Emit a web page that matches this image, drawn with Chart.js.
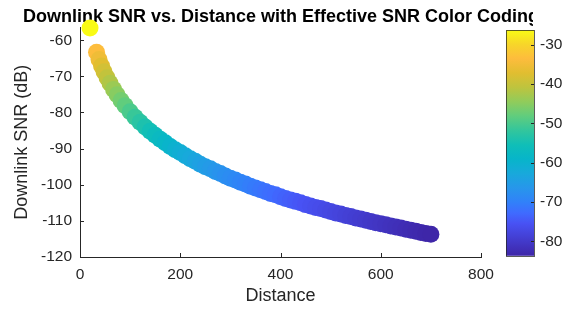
<!DOCTYPE html>
<html><head><meta charset="utf-8">
<script src="https://cdn.jsdelivr.net/npm/chart.js@4.4.1/dist/chart.umd.min.js"></script>
<style>html,body{margin:0;padding:0;background:#fff}#wrap{width:574px;height:309px}</style>
</head><body><div id="wrap"><canvas id="c" width="574" height="309"></canvas></div>
<script>
const distance = [20,33,38,43,48,54,60,67,74,82,90,100,110,120,130,140,150,160,170,180,190,200,210,220,230,240,250,260,270,280,290,300,310,320,330,340,350,360,370,380,390,400,410,420,430,440,450,460,470,480,490,500,510,520,530,540,550,560,570,580,590,600,610,620,630,640,650,660,670,680,690,700];
const downlinkSNR = [-56.6,-63.3,-65.3,-67.1,-68.7,-70.4,-71.9,-73.6,-75.1,-76.7,-78.1,-79.8,-81.3,-82.7,-84.0,-85.2,-86.3,-87.4,-88.4,-89.4,-90.3,-91.1,-92.0,-92.8,-93.5,-94.3,-95.0,-95.6,-96.3,-96.9,-97.6,-98.2,-98.7,-99.3,-99.8,-100.4,-100.9,-101.4,-101.9,-102.4,-102.8,-103.3,-103.8,-104.2,-104.6,-105.0,-105.5,-105.9,-106.3,-106.6,-107.0,-107.4,-107.8,-108.1,-108.5,-108.8,-109.2,-109.5,-109.8,-110.2,-110.5,-110.8,-111.1,-111.4,-111.7,-112.0,-112.3,-112.6,-112.9,-113.2,-113.5,-113.7];
const effectiveSNR = [-26.2,-33.3,-35.3,-37.1,-38.7,-40.4,-41.9,-43.6,-45.1,-46.7,-48.1,-49.8,-51.3,-52.7,-54.0,-55.2,-56.3,-57.4,-58.4,-59.4,-60.3,-61.1,-62.0,-62.8,-63.5,-64.3,-65.0,-65.6,-66.3,-66.9,-67.6,-68.2,-68.7,-69.3,-69.8,-70.4,-70.9,-71.4,-71.9,-72.4,-72.8,-73.3,-73.8,-74.2,-74.6,-75.0,-75.5,-75.9,-76.3,-76.6,-77.0,-77.4,-77.8,-78.1,-78.5,-78.8,-79.2,-79.5,-79.8,-80.2,-80.5,-80.8,-81.1,-81.4,-81.7,-82.0,-82.3,-82.6,-82.9,-83.2,-83.5,-83.7];
const xTicks = [0,200,400,600,800];
const yTicks = [-120,-110,-100,-90,-80,-70,-60];
const cbTicks = [-80,-70,-60,-50,-40,-30];
const colorLimits = [-83.7,-26.2];

const parula = [
 [0.000,[62,38,168]],[0.143,[72,82,244]],[0.19,[63,107,255]],[0.238,[49,129,249]],
 [0.30,[39,150,235]],[0.365,[24,169,219]],[0.43,[7,181,201]],[0.49,[15,190,184]],
 [0.556,[51,198,156]],[0.62,[97,205,125]],[0.68,[143,204,92]],[0.746,[190,196,62]],
 [0.81,[225,190,48]],[0.873,[253,188,61]],[0.937,[247,214,41]],[1.0,[249,251,21]]
];
function cmap(t){
  t=Math.max(0,Math.min(1,t));
  for(let i=1;i<parula.length;i++){
    if(t<=parula[i][0]){
      const [t0,c0]=parula[i-1],[t1,c1]=parula[i];
      const f=(t-t0)/(t1-t0);
      return 'rgb('+c0.map((c,k)=>Math.round(c+(c1[k]-c)*f)).join(',')+')';
    }
  }
  return 'rgb(249,251,21)';
}
const colorOf = v => cmap((v-colorLimits[0])/(colorLimits[1]-colorLimits[0]));

const FONT='"Liberation Sans", Arial, Helvetica, sans-serif';
const TICKC='#262626';

function noPad(s){ s.paddingTop=0; s.paddingBottom=0; s.paddingLeft=0; s.paddingRight=0; }

const deco = {
  id:'deco',
  beforeDraw(chart){
    const ctx=chart.ctx;
    ctx.save();
    ctx.beginPath();
    ctx.rect(0,0,533,309);
    ctx.rect(533,28,41,281);
    ctx.clip();
  },
  beforeDatasetsDraw(chart){
    const ctx=chart.ctx, a=chart.chartArea, xs=chart.scales.x, ys=chart.scales.y;
    ctx.save();
    ctx.strokeStyle=TICKC; ctx.lineWidth=1;
    ctx.beginPath();
    xTicks.forEach(v=>{const p=Math.round(xs.getPixelForValue(v))+0.5; ctx.moveTo(p,a.bottom); ctx.lineTo(p,a.bottom-4);});
    yTicks.forEach(v=>{const p=Math.round(ys.getPixelForValue(v))+0.5; ctx.moveTo(a.left,p); ctx.lineTo(a.left+4,p);});
    ctx.stroke();
    ctx.restore();
  },
  afterDraw(chart){
    const ctx=chart.ctx, cb=chart.scales.cb, a=chart.chartArea;
    ctx.restore();
    const x0=a.right+25, w=28;
    const top=cb.getPixelForValue(colorLimits[1]), bot=cb.getPixelForValue(colorLimits[0]);
    const g=ctx.createLinearGradient(0,bot,0,top);
    parula.forEach(([t,c])=>g.addColorStop(t,'rgb('+c.join(',')+')'));
    ctx.save();
    ctx.fillStyle=g;
    ctx.fillRect(x0,top,w,bot-top);
    ctx.strokeStyle='rgba(38,38,38,0.75)'; ctx.lineWidth=1;
    ctx.strokeRect(Math.round(x0)+0.5,Math.round(top)+0.5,w,Math.round(bot-top));
    ctx.beginPath();
    cbTicks.forEach(v=>{const p=Math.round(cb.getPixelForValue(v))+0.5; ctx.moveTo(x0+w,p); ctx.lineTo(x0+w-3,p);});
    ctx.strokeStyle=TICKC;
    ctx.stroke();
    ctx.restore();
  }
};

new Chart(document.getElementById('c'),{
  type:'scatter',
  data:{datasets:[{
    data:distance.map((d,i)=>({x:d,y:downlinkSNR[i]})),
    pointBackgroundColor:effectiveSNR.map(colorOf),
    pointBorderWidth:0,
    pointRadius:8.5,
    pointHoverRadius:8.5,
    clip:false
  }]},
  options:{
    responsive:false, animation:false, devicePixelRatio:1,
    layout:{padding:{left:0,top:0,bottom:0,right:12}},
    plugins:{
      legend:{display:false}, tooltip:{enabled:false},
      title:{display:true,text:'Downlink SNR vs. Distance with Effective SNR Color Coding',
        color:'#000',font:{family:FONT,size:18,weight:'bold'},padding:{top:6,bottom:0}}
    },
    scales:{
      x:{type:'linear',position:'bottom',min:0,max:800,
        grid:{display:false,drawTicks:false},
        border:{display:true,color:TICKC,width:1},
        ticks:{color:TICKC,font:{family:FONT,size:15.5},padding:8,maxRotation:0},
        title:{display:true,text:'Distance',color:TICKC,font:{family:FONT,size:18},padding:{top:0,bottom:2}},
        afterBuildTicks:s=>{s.ticks=xTicks.map(v=>({value:v}));},
        afterFit:s=>{s.height=52; noPad(s);}
      },
      y:{type:'linear',position:'left',min:-120,max:-56.5,
        grid:{display:false,drawTicks:false},
        border:{display:true,color:TICKC,width:1},
        ticks:{color:TICKC,font:{family:FONT,size:15.5},padding:8},
        title:{display:true,text:'Downlink SNR (dB)',color:TICKC,font:{family:FONT,size:18},padding:{top:11,bottom:0}},
        afterBuildTicks:s=>{s.ticks=yTicks.map(v=>({value:v}));},
        afterFit:s=>{s.width=80; noPad(s);}
      },
      cb:{type:'linear',position:'right',min:-84.01,max:-25.59,
        grid:{display:false,drawTicks:false},
        border:{display:false},
        ticks:{color:TICKC,font:{family:FONT,size:15.5},padding:59},
        afterBuildTicks:s=>{s.ticks=cbTicks.map(v=>({value:v}));},
        afterFit:s=>{s.width=81; noPad(s);}
      }
    }
  },
  plugins:[deco]
});
</script></body></html>
